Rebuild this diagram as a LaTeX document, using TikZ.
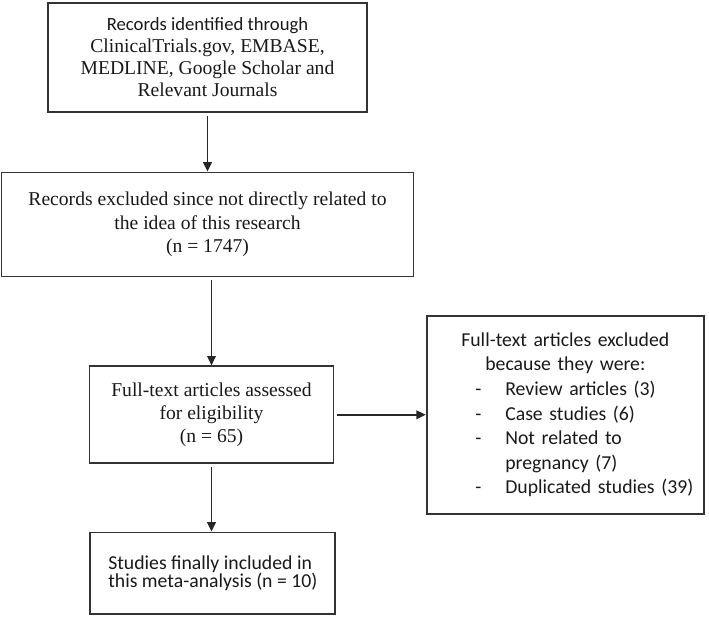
\documentclass[tikz,border=0pt]{standalone}
\usepackage{fontspec}
\setmainfont{Liberation Serif}
\newfontfamily\calibrifont{Carlito}
\usetikzlibrary{positioning,arrows.meta}

\begin{document}
\begin{tikzpicture}[
    > = {Triangle[length=7pt,width=6.5pt]},
    box/.style={rectangle, draw=black!80, line width=1.35pt, text=black!90, align=center, inner sep=4pt},
    link/.style={->, draw=black!85, line width=1.1pt, shorten <=2pt},
    serif/.style={font=\fontsize{14.7}{17.6}\selectfont},
    sans/.style={font=\calibrifont\fontsize{14.8}{18.4}\selectfont}
]
    \useasboundingbox (0,0) rectangle (531.75pt,-463.5pt);

    \node[box, font=\fontsize{14.7}{16.5}\selectfont, minimum width=239.25pt, minimum height=81.75pt]
        (records) at (155.625pt,-43.125pt)
        {{\calibrifont\fontsize{14}{16.5}\selectfont Records identified through}\\ClinicalTrials.gov, EMBASE,\\MEDLINE, Google Scholar and\\Relevant Journals};
    \node[box, serif, minimum width=309pt, minimum height=78pt, below=44pt of records]
        (excluded) {Records excluded since not directly related to\\the idea of this research\\(n = 1747)};
    \node[box, serif, minimum width=183pt, minimum height=72.75pt, below=66pt of excluded, xshift=3pt]
        (assessed) {Full-text articles assessed\\for eligibility\\(n = 65)};
    \node[box, sans, text width=200pt, minimum height=148.5pt, right=68.5pt of assessed]
        (excludedft) {Full-text articles excluded\\because they were:\\
        \makebox[200pt][l]{\hspace*{32.5pt}\makebox[22.5pt][l]{-}Review articles (3)}\\
        \makebox[200pt][l]{\hspace*{32.5pt}\makebox[22.5pt][l]{-}Case studies (6)}\\
        \makebox[200pt][l]{\hspace*{32.5pt}\makebox[22.5pt][l]{-}Not related to}\\
        \makebox[200pt][l]{\hspace*{55pt}pregnancy (7)}\\
        \makebox[200pt][l]{\hspace*{32.5pt}\makebox[22.5pt][l]{-}Duplicated studies (39)}};
    \node[box, align=left, font=\calibrifont\fontsize{14.8}{13.5}\selectfont, minimum width=183.75pt, minimum height=61pt, below=50.5pt of assessed, xshift=1pt]
        (included) {Studies finally included in\\this meta-analysis (n = 10)};

    \draw[link] (records) -- (excluded);
    \draw[link] (excluded.south -| assessed.north) -- (assessed);
    \draw[link] (assessed) -- (included.north -| assessed.south);
    \draw[link] (assessed) -- (excludedft);
\end{tikzpicture}
\end{document}
